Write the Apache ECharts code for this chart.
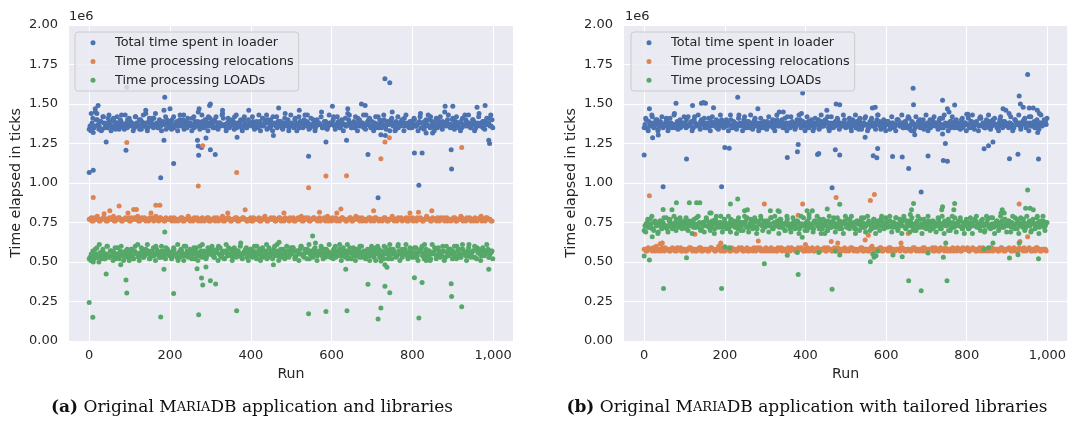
<!DOCTYPE html>
<html>
<head>
<meta charset="utf-8">
<script src="https://cdn.jsdelivr.net/npm/echarts@6/dist/echarts.min.js"></script>
<style>
  html, body { margin: 0; padding: 0; background: #fff; }
  #main { width: 1069px; height: 437px; }
</style>
</head>
<body>
<div id="main"></div>
<script>
// values in millions of ticks; each band array holds one sample every bandStep runs,
// the n-th array of a group is shifted by bandShifts[n] runs
const bandStep = 5;
const bandShifts = [0, 2, 4];
const seriesNames = ['Total time spent in loader', 'Time processing relocations', 'Time processing LOADs'];
const xTicks = [0, 200, 400, 600, 800, 1000];

// (a) original libraries
const aTotal = [
  1.34,1.44,1.32,1.47,1.40,1.36,1.33,1.42,1.37,1.35,1.39,1.36,1.41,1.34,1.38,1.36,1.43,1.35,1.37,1.40,
  1.36,1.38,1.35,1.42,1.37,1.34,1.39,1.36,1.44,1.35,1.38,1.37,1.41,1.36,1.35,1.39,1.37,1.46,1.34,1.38,
  1.37,1.40,1.35,1.38,1.36,1.43,1.37,1.34,1.39,1.36,1.38,1.41,1.35,1.37,1.45,1.36,1.39,1.35,1.38,1.42,
  1.36,1.37,1.40,1.35,1.38,1.36,1.44,1.37,1.35,1.39,1.36,1.38,1.42,1.35,1.37,1.40,1.36,1.38,1.35,1.46,
  1.37,1.39,1.35,1.38,1.43,1.36,1.37,1.40,1.34,1.38,1.36,1.42,1.37,1.35,1.39,1.37,1.36,1.44,1.38,1.35,
  1.38,1.36,1.41,1.37,1.35,1.39,1.36,1.38,1.43,1.37,1.36,1.40,1.35,1.38,1.37,1.45,1.36,1.39,1.35,1.38,
  1.37,1.42,1.36,1.38,1.35,1.40,1.37,1.36,1.44,1.38,1.35,1.39,1.37,1.41,1.36,1.38,1.35,1.43,1.37,1.36,
  1.39,1.37,1.35,1.42,1.38,1.36,1.40,1.34,1.37,1.38,1.45,1.36,1.39,1.35,1.38,1.37,1.41,1.36,1.38,1.35,
  1.37,1.40,1.36,1.38,1.44,1.35,1.39,1.37,1.36,1.42,1.38,1.35,1.40,1.37,1.36,1.39,1.45,1.38,1.36,1.37,
  1.41,1.36,1.38,1.35,1.39,1.37,1.43,1.36,1.38,1.35,1.40,1.37,1.36,1.44,1.38,1.35,1.39,1.37,1.41,1.36
];
const aTotal2 = [
  1.36,1.38,1.35,1.40,1.37,1.39,1.34,1.38,1.36,1.41,1.37,1.35,1.39,1.38,1.36,1.40,1.37,1.34,1.38,1.36,
  1.39,1.37,1.35,1.38,1.36,1.40,1.37,1.38,1.35,1.39,1.36,1.41,1.37,1.38,1.35,1.36,1.39,1.37,1.40,1.36,
  1.38,1.35,1.37,1.39,1.36,1.38,1.40,1.37,1.35,1.38,1.36,1.37,1.39,1.36,1.38,1.35,1.37,1.40,1.36,1.38,
  1.37,1.35,1.39,1.36,1.38,1.37,1.41,1.36,1.38,1.35,1.37,1.39,1.36,1.38,1.37,1.35,1.40,1.37,1.36,1.38,
  1.36,1.38,1.37,1.35,1.39,1.37,1.36,1.38,1.40,1.35,1.37,1.38,1.36,1.39,1.37,1.35,1.38,1.36,1.40,1.37,
  1.37,1.35,1.38,1.36,1.39,1.37,1.40,1.36,1.38,1.35,1.37,1.39,1.36,1.38,1.37,1.35,1.39,1.37,1.36,1.38,
  1.38,1.36,1.37,1.39,1.35,1.38,1.37,1.36,1.40,1.37,1.38,1.35,1.36,1.39,1.37,1.38,1.36,1.37,1.40,1.35,
  1.36,1.38,1.37,1.35,1.39,1.37,1.36,1.38,1.37,1.40,1.36,1.38,1.35,1.37,1.39,1.36,1.38,1.37,1.35,1.39,
  1.38,1.36,1.37,1.39,1.35,1.38,1.36,1.37,1.40,1.36,1.38,1.37,1.35,1.39,1.37,1.36,1.38,1.40,1.37,1.36,
  1.37,1.39,1.36,1.38,1.35,1.37,1.40,1.38,1.36,1.37,1.39,1.35,1.38,1.37,1.36,1.39,1.37,1.38,1.36,1.40
];
const aTotal3 = [
  1.33,1.41,1.36,1.44,1.34,1.39,1.42,1.35,1.38,1.43,1.33,1.40,1.36,1.42,1.34,1.39,1.37,1.43,1.35,1.41,
  1.38,1.33,1.42,1.36,1.40,1.34,1.43,1.37,1.33,1.41,1.39,1.35,1.44,1.36,1.40,1.33,1.38,1.42,1.35,1.39,
  1.34,1.42,1.37,1.33,1.40,1.36,1.43,1.35,1.41,1.38,1.33,1.42,1.36,1.39,1.34,1.43,1.37,1.40,1.33,1.41,
  1.39,1.35,1.42,1.34,1.38,1.43,1.36,1.33,1.41,1.37,1.40,1.34,1.43,1.36,1.39,1.33,1.42,1.35,1.40,1.37,
  1.42,1.34,1.39,1.36,1.33,1.41,1.38,1.43,1.35,1.40,1.33,1.37,1.42,1.36,1.39,1.34,1.41,1.38,1.33,1.43,
  1.36,1.40,1.33,1.42,1.37,1.35,1.43,1.39,1.34,1.41,1.36,1.33,1.40,1.38,1.42,1.35,1.39,1.34,1.43,1.37,
  1.40,1.34,1.42,1.36,1.39,1.33,1.41,1.37,1.43,1.35,1.38,1.42,1.33,1.40,1.36,1.43,1.34,1.39,1.41,1.35,
  1.33,1.42,1.37,1.40,1.35,1.43,1.36,1.39,1.33,1.41,1.38,1.34,1.42,1.36,1.40,1.33,1.43,1.37,1.39,1.35,
  1.41,1.36,1.33,1.42,1.38,1.34,1.40,1.43,1.35,1.39,1.33,1.41,1.37,1.42,1.34,1.38,1.36,1.43,1.35,1.40,
  1.34,1.42,1.38,1.33,1.41,1.36,1.39,1.43,1.35,1.40,1.33,1.37,1.42,1.36,1.39,1.34,1.41,1.38,1.43,1.35
];
const aTotalOut = [
  [0,1.067],[10,1.08],[93,1.606],[91,1.207],[187,1.542],[177,1.034],[209,1.124],[185,1.27],[42,1.26],
  [268,1.27],[270,1.234],[271,1.175],[278,1.225],[300,1.21],[312,1.18],[289,1.285],[366,1.29],
  [272,1.47],[298,1.49],[300,1.50],[22,1.49],[15,1.45],[456,1.30],[543,1.169],[586,1.26],[637,1.27],
  [690,1.18],[715,0.907],[722,1.306],[733,1.30],[805,1.19],[824,1.19],[816,0.985],[896,1.21],
  [897,1.089],[989,1.27],[991,1.25],[834,1.316],[850,1.316],[757,1.33],[732,1.66],[744,1.635],
  [469,1.475],[674,1.50],[683,1.49],[602,1.485],[881,1.486],[900,1.486],[960,1.48],[140,1.46],
  [200,1.47],[330,1.46],[520,1.46],[640,1.47],[980,1.49]
];
const aReloc = [
  0.77,0.78,0.76,0.77,0.79,0.76,0.77,0.78,0.77,0.76,0.78,0.77,0.79,0.76,0.77,0.78,0.76,0.77,0.78,0.77,
  0.76,0.78,0.77,0.77,0.79,0.76,0.78,0.77,0.76,0.77,0.78,0.77,0.76,0.79,0.77,0.78,0.77,0.76,0.78,0.77,
  0.77,0.76,0.78,0.77,0.76,0.77,0.78,0.76,0.77,0.79,0.76,0.77,0.78,0.77,0.76,0.77,0.78,0.76,0.77,0.78,
  0.76,0.77,0.78,0.77,0.76,0.77,0.79,0.76,0.77,0.78,0.76,0.77,0.77,0.78,0.76,0.77,0.78,0.77,0.76,0.77,
  0.78,0.76,0.77,0.77,0.78,0.76,0.77,0.79,0.76,0.77,0.78,0.77,0.76,0.77,0.78,0.76,0.77,0.78,0.77,0.76,
  0.77,0.78,0.76,0.77,0.77,0.79,0.76,0.78,0.77,0.76,0.77,0.78,0.77,0.76,0.78,0.77,0.77,0.76,0.79,0.77,
  0.76,0.77,0.78,0.77,0.76,0.78,0.77,0.76,0.77,0.78,0.76,0.77,0.79,0.77,0.76,0.78,0.77,0.76,0.77,0.78,
  0.77,0.76,0.78,0.77,0.77,0.76,0.78,0.77,0.76,0.77,0.79,0.76,0.77,0.78,0.77,0.76,0.77,0.78,0.76,0.77,
  0.78,0.77,0.76,0.77,0.78,0.76,0.77,0.79,0.77,0.76,0.78,0.77,0.76,0.77,0.78,0.77,0.76,0.78,0.77,0.76,
  0.77,0.78,0.76,0.77,0.79,0.76,0.77,0.78,0.77,0.76,0.77,0.78,0.76,0.77,0.79,0.77,0.76,0.78,0.77,0.76
];
const aReloc2 = [
  0.77,0.76,0.78,0.77,0.77,0.76,0.77,0.78,0.76,0.77,0.77,0.78,0.76,0.77,0.78,0.77,0.76,0.77,0.77,0.78,
  0.76,0.77,0.78,0.77,0.76,0.77,0.77,0.78,0.77,0.76,0.77,0.78,0.77,0.77,0.76,0.78,0.77,0.76,0.77,0.77,
  0.78,0.77,0.76,0.77,0.77,0.78,0.76,0.77,0.77,0.78,0.77,0.76,0.77,0.78,0.77,0.76,0.77,0.77,0.78,0.76,
  0.77,0.77,0.76,0.78,0.77,0.77,0.76,0.77,0.78,0.77,0.76,0.77,0.78,0.76,0.77,0.77,0.78,0.77,0.76,0.77,
  0.76,0.78,0.77,0.77,0.76,0.77,0.78,0.77,0.76,0.77,0.77,0.78,0.76,0.77,0.78,0.77,0.76,0.77,0.77,0.78,
  0.77,0.76,0.77,0.78,0.77,0.76,0.77,0.77,0.78,0.76,0.77,0.78,0.77,0.77,0.76,0.77,0.78,0.77,0.76,0.77,
  0.78,0.77,0.76,0.77,0.77,0.78,0.77,0.76,0.77,0.78,0.76,0.77,0.77,0.78,0.77,0.76,0.77,0.77,0.78,0.76,
  0.77,0.78,0.77,0.76,0.77,0.77,0.78,0.76,0.77,0.77,0.78,0.77,0.76,0.77,0.78,0.77,0.77,0.76,0.78,0.77,
  0.76,0.77,0.78,0.77,0.77,0.76,0.77,0.78,0.77,0.76,0.77,0.77,0.78,0.76,0.77,0.78,0.77,0.76,0.77,0.77,
  0.78,0.76,0.77,0.77,0.78,0.77,0.76,0.77,0.78,0.77,0.76,0.77,0.77,0.78,0.76,0.77,0.78,0.77,0.77,0.76
];
const aRelocOut = [
  [10,0.909],[74,0.854],[51,0.825],[110,0.833],[117,0.833],[165,0.859],[175,0.859],[96,0.81],
  [37,0.805],[343,0.81],[386,0.83],[153,0.81],[623,0.835],[704,0.825],[848,0.825],[570,0.815],
  [815,0.815],[794,0.81],[482,0.81],[613,0.81],[93,1.257],[281,1.236],[270,0.981],[365,1.067],
  [543,0.97],[586,1.044],[637,1.046],[722,1.154],[732,1.26],[743,1.287],[922,1.225]
];
const aLoads = [
  0.52,0.55,0.50,0.58,0.53,0.61,0.52,0.56,0.54,0.60,0.53,0.57,0.55,0.52,0.59,0.54,0.56,0.51,0.57,0.55,
  0.54,0.58,0.52,0.56,0.61,0.54,0.55,0.53,0.58,0.55,0.52,0.57,0.54,0.60,0.55,0.53,0.57,0.54,0.59,0.55,
  0.56,0.53,0.58,0.55,0.51,0.57,0.54,0.60,0.55,0.53,0.57,0.56,0.52,0.59,0.55,0.54,0.61,0.56,0.53,0.57,
  0.55,0.58,0.53,0.56,0.60,0.54,0.57,0.52,0.56,0.59,0.55,0.53,0.58,0.56,0.54,0.62,0.55,0.57,0.53,0.56,
  0.58,0.54,0.56,0.60,0.55,0.53,0.57,0.56,0.52,0.59,0.55,0.57,0.54,0.61,0.56,0.53,0.58,0.55,0.57,0.54,
  0.56,0.59,0.53,0.57,0.55,0.60,0.54,0.56,0.58,0.52,0.57,0.55,0.62,0.54,0.56,0.59,0.55,0.53,0.57,0.56,
  0.55,0.58,0.53,0.56,0.61,0.54,0.57,0.55,0.52,0.59,0.56,0.54,0.58,0.55,0.60,0.53,0.57,0.56,0.54,0.58,
  0.56,0.53,0.59,0.55,0.57,0.54,0.60,0.56,0.52,0.58,0.55,0.57,0.54,0.61,0.55,0.53,0.58,0.56,0.54,0.57,
  0.55,0.59,0.53,0.56,0.58,0.54,0.61,0.55,0.57,0.52,0.56,0.59,0.54,0.57,0.55,0.60,0.53,0.56,0.58,0.55,
  0.57,0.54,0.60,0.55,0.53,0.58,0.56,0.54,0.61,0.55,0.57,0.53,0.59,0.56,0.54,0.58,0.55,0.57,0.53,0.56
];
const aLoads2 = [
  0.53,0.54,0.52,0.55,0.53,0.56,0.54,0.52,0.55,0.53,0.57,0.54,0.56,0.53,0.55,0.57,0.54,0.56,0.55,0.53,
  0.56,0.54,0.57,0.55,0.53,0.56,0.58,0.54,0.55,0.57,0.53,0.56,0.55,0.58,0.54,0.56,0.53,0.57,0.55,0.56,
  0.54,0.57,0.55,0.53,0.56,0.58,0.55,0.54,0.57,0.56,0.53,0.55,0.58,0.54,0.56,0.57,0.55,0.53,0.56,0.55,
  0.57,0.54,0.56,0.58,0.55,0.53,0.56,0.57,0.54,0.55,0.58,0.56,0.54,0.57,0.55,0.53,0.56,0.58,0.55,0.54,
  0.56,0.57,0.54,0.55,0.58,0.56,0.53,0.57,0.55,0.54,0.56,0.58,0.55,0.57,0.54,0.56,0.55,0.53,0.57,0.56,
  0.55,0.57,0.54,0.56,0.58,0.55,0.53,0.56,0.57,0.55,0.54,0.58,0.56,0.55,0.57,0.54,0.56,0.58,0.55,0.53,
  0.56,0.55,0.57,0.54,0.56,0.58,0.55,0.57,0.53,0.56,0.55,0.57,0.54,0.58,0.56,0.55,0.53,0.57,0.56,0.54,
  0.57,0.55,0.56,0.58,0.54,0.56,0.55,0.57,0.53,0.56,0.58,0.55,0.54,0.57,0.56,0.55,0.58,0.54,0.56,0.57,
  0.55,0.56,0.54,0.57,0.58,0.55,0.56,0.53,0.57,0.55,0.56,0.58,0.54,0.56,0.55,0.57,0.53,0.56,0.58,0.55,
  0.56,0.54,0.57,0.55,0.58,0.56,0.54,0.57,0.55,0.56,0.53,0.58,0.56,0.55,0.57,0.54,0.56,0.58,0.55,0.57
];
const aLoads3 = [
  0.51,0.57,0.53,0.59,0.50,0.55,0.58,0.52,0.60,0.54,0.57,0.51,0.59,0.55,0.52,0.60,0.56,0.53,0.58,0.51,
  0.58,0.52,0.60,0.55,0.51,0.59,0.53,0.57,0.61,0.52,0.56,0.59,0.51,0.57,0.53,0.60,0.55,0.52,0.58,0.54,
  0.52,0.59,0.55,0.61,0.53,0.57,0.51,0.60,0.54,0.58,0.52,0.59,0.56,0.51,0.60,0.53,0.57,0.52,0.59,0.55,
  0.60,0.53,0.57,0.51,0.59,0.55,0.52,0.61,0.54,0.58,0.51,0.59,0.53,0.57,0.60,0.52,0.56,0.59,0.51,0.58,
  0.53,0.60,0.52,0.57,0.51,0.59,0.55,0.61,0.53,0.57,0.52,0.60,0.54,0.51,0.58,0.56,0.52,0.60,0.53,0.59,
  0.59,0.52,0.57,0.51,0.60,0.54,0.58,0.52,0.61,0.55,0.53,0.59,0.51,0.57,0.60,0.52,0.58,0.54,0.61,0.53,
  0.52,0.60,0.55,0.58,0.51,0.59,0.53,0.61,0.56,0.52,0.59,0.51,0.57,0.53,0.60,0.55,0.52,0.58,0.51,0.60,
  0.58,0.51,0.60,0.53,0.57,0.52,0.59,0.55,0.61,0.52,0.57,0.53,0.60,0.51,0.58,0.55,0.61,0.52,0.59,0.53,
  0.53,0.59,0.51,0.57,0.60,0.52,0.58,0.54,0.51,0.61,0.55,0.52,0.59,0.53,0.57,0.51,0.60,0.54,0.58,0.52,
  0.60,0.52,0.58,0.53,0.61,0.55,0.51,0.59,0.53,0.57,0.60,0.52,0.58,0.51,0.59,0.55,0.61,0.53,0.57,0.52
];
const aLoadsOut = [
  [0,0.243],[9,0.15],[42,0.424],[78,0.483],[91,0.386],[93,0.304],[177,0.152],[185,0.454],[187,0.69],
  [209,0.30],[267,0.458],[278,0.399],[281,0.354],[289,0.468],[300,0.382],[313,0.361],[271,0.166],
  [365,0.192],[456,0.483],[543,0.173],[586,0.187],[635,0.454],[638,0.192],[690,0.359],[715,0.139],
  [722,0.209],[722,0.506],[732,0.483],[737,0.466],[732,0.346],[744,0.306],[805,0.40],[824,0.37],
  [816,0.146],[896,0.363],[897,0.282],[922,0.217],[989,0.454],[834,0.51],[553,0.665],[470,0.625]
];

// (b) tailored libraries
const bTotal = [
  1.35,1.40,1.33,1.37,1.42,1.36,1.38,1.34,1.39,1.37,1.36,1.41,1.35,1.38,1.37,1.44,1.36,1.39,1.35,1.38,
  1.37,1.40,1.36,1.38,1.35,1.42,1.37,1.36,1.39,1.38,1.35,1.37,1.41,1.36,1.38,1.37,1.35,1.39,1.36,1.38,
  1.38,1.36,1.37,1.40,1.35,1.38,1.37,1.43,1.36,1.38,1.35,1.39,1.37,1.36,1.38,1.41,1.37,1.35,1.38,1.36,
  1.37,1.39,1.36,1.38,1.35,1.37,1.40,1.36,1.38,1.37,1.35,1.42,1.37,1.36,1.38,1.35,1.39,1.37,1.44,1.36,
  1.38,1.35,1.37,1.40,1.36,1.38,1.37,1.35,1.39,1.36,1.38,1.42,1.37,1.35,1.38,1.36,1.40,1.37,1.36,1.38,
  1.35,1.37,1.39,1.36,1.38,1.35,1.37,1.41,1.36,1.38,1.37,1.35,1.39,1.36,1.38,1.37,1.43,1.36,1.38,1.35,
  1.37,1.39,1.36,1.38,1.35,1.37,1.40,1.36,1.38,1.37,1.35,1.42,1.36,1.38,1.37,1.36,1.39,1.35,1.38,1.37,
  1.36,1.38,1.35,1.40,1.37,1.36,1.38,1.35,1.41,1.37,1.36,1.38,1.35,1.37,1.39,1.36,1.38,1.37,1.35,1.38,
  1.37,1.36,1.39,1.35,1.38,1.37,1.36,1.41,1.38,1.35,1.37,1.36,1.38,1.40,1.37,1.35,1.38,1.36,1.39,1.37,
  1.36,1.38,1.37,1.35,1.40,1.37,1.38,1.36,1.39,1.37,1.38,1.42,1.36,1.38,1.37,1.39,1.36,1.38,1.37,1.39
];
const bTotal2 = [
  1.37,1.35,1.39,1.36,1.38,1.37,1.40,1.36,1.38,1.35,1.37,1.39,1.36,1.38,1.37,1.35,1.39,1.37,1.36,1.38,
  1.38,1.36,1.37,1.39,1.35,1.38,1.37,1.36,1.40,1.37,1.38,1.35,1.36,1.39,1.37,1.38,1.36,1.37,1.40,1.35,
  1.36,1.38,1.37,1.35,1.39,1.37,1.36,1.38,1.37,1.40,1.36,1.38,1.35,1.37,1.39,1.36,1.38,1.37,1.35,1.39,
  1.38,1.36,1.37,1.39,1.35,1.38,1.36,1.37,1.40,1.36,1.38,1.37,1.35,1.39,1.37,1.36,1.38,1.40,1.37,1.36,
  1.37,1.39,1.36,1.38,1.35,1.37,1.40,1.38,1.36,1.37,1.39,1.35,1.38,1.37,1.36,1.39,1.37,1.38,1.36,1.40,
  1.36,1.38,1.35,1.40,1.37,1.39,1.34,1.38,1.36,1.41,1.37,1.35,1.39,1.38,1.36,1.40,1.37,1.34,1.38,1.36,
  1.39,1.37,1.35,1.38,1.36,1.40,1.37,1.38,1.35,1.39,1.36,1.41,1.37,1.38,1.35,1.36,1.39,1.37,1.40,1.36,
  1.38,1.35,1.37,1.39,1.36,1.38,1.40,1.37,1.35,1.38,1.36,1.37,1.39,1.36,1.38,1.35,1.37,1.40,1.36,1.38,
  1.37,1.35,1.39,1.36,1.38,1.37,1.41,1.36,1.38,1.35,1.37,1.39,1.36,1.38,1.37,1.35,1.40,1.37,1.36,1.38,
  1.36,1.38,1.37,1.35,1.39,1.37,1.36,1.38,1.40,1.35,1.37,1.38,1.36,1.39,1.37,1.35,1.38,1.36,1.40,1.37
];
const bTotal3 = [
  1.41,1.34,1.38,1.43,1.35,1.40,1.33,1.37,1.42,1.36,1.39,1.33,1.41,1.35,1.43,1.37,1.34,1.40,1.36,1.42,
  1.35,1.42,1.37,1.33,1.40,1.36,1.43,1.34,1.39,1.41,1.35,1.38,1.33,1.42,1.36,1.40,1.34,1.43,1.37,1.39,
  1.40,1.33,1.43,1.36,1.38,1.34,1.41,1.37,1.33,1.42,1.35,1.39,1.43,1.34,1.40,1.36,1.33,1.41,1.38,1.35,
  1.34,1.42,1.36,1.40,1.33,1.43,1.37,1.39,1.35,1.41,1.33,1.38,1.42,1.36,1.34,1.40,1.43,1.35,1.39,1.33,
  1.42,1.35,1.39,1.33,1.41,1.37,1.34,1.43,1.36,1.40,1.38,1.33,1.42,1.35,1.39,1.41,1.34,1.37,1.43,1.36,
  1.36,1.41,1.33,1.39,1.43,1.35,1.40,1.34,1.38,1.42,1.33,1.37,1.41,1.36,1.34,1.43,1.39,1.35,1.40,1.33,
  1.39,1.34,1.42,1.37,1.33,1.40,1.36,1.43,1.35,1.38,1.41,1.34,1.39,1.33,1.42,1.36,1.40,1.37,1.34,1.43,
  1.33,1.40,1.36,1.42,1.38,1.34,1.41,1.35,1.43,1.37,1.33,1.39,1.42,1.35,1.40,1.36,1.34,1.41,1.38,1.33,
  1.41,1.36,1.43,1.34,1.39,1.33,1.42,1.37,1.35,1.40,1.43,1.34,1.38,1.41,1.36,1.33,1.42,1.35,1.39,1.37,
  1.35,1.42,1.33,1.40,1.37,1.43,1.34,1.39,1.41,1.36,1.33,1.42,1.38,1.35,1.40,1.34,1.43,1.37,1.39,1.41
];
const bTotalOut = [
  [0,1.177],[21,1.287],[35,1.304],[13,1.47],[47,0.977],[79,1.504],[105,1.152],[142,1.505],[152,1.505],
  [147,1.51],[120,1.49],[172,1.477],[192,0.977],[200,1.224],[211,1.22],[232,1.542],[282,1.47],
  [355,1.162],[380,1.198],[382,1.244],[393,1.57],[430,1.18],[345,1.45],[335,1.45],[433,1.186],
  [474,1.211],[485,1.177],[466,0.97],[568,1.173],[577,1.16],[579,1.218],[616,1.167],[640,1.165],
  [656,1.091],[667,1.60],[668,1.496],[687,0.943],[671,1.306],[663,1.33],[704,1.171],[740,1.523],
  [747,1.25],[742,1.143],[752,1.137],[770,1.494],[752,1.47],[756,1.45],[740,1.31],[843,1.217],
  [854,1.236],[865,1.26],[803,1.435],[800,1.435],[906,1.154],[927,1.182],[951,1.686],[930,1.55],
  [933,1.50],[940,1.48],[955,1.475],[965,1.475],[975,1.46],[980,1.44],[978,1.152],[976,1.32],
  [890,1.47],[897,1.46],[905,1.44],[476,1.50],[485,1.495],[566,1.475],[573,1.48],[548,1.29],[453,1.46]
];
const bReloc = [
  0.58,0.57,0.59,0.58,0.57,0.58,0.60,0.57,0.58,0.59,0.57,0.58,0.58,0.57,0.59,0.58,0.57,0.58,0.59,0.57,
  0.58,0.57,0.58,0.59,0.57,0.58,0.57,0.58,0.59,0.57,0.58,0.58,0.57,0.59,0.58,0.57,0.58,0.60,0.57,0.58,
  0.57,0.58,0.59,0.57,0.58,0.58,0.57,0.59,0.58,0.57,0.58,0.59,0.57,0.58,0.57,0.58,0.59,0.58,0.57,0.58,
  0.58,0.57,0.58,0.59,0.57,0.58,0.57,0.58,0.59,0.58,0.57,0.58,0.57,0.59,0.58,0.57,0.58,0.58,0.59,0.57,
  0.58,0.59,0.57,0.58,0.57,0.58,0.59,0.57,0.58,0.58,0.57,0.59,0.58,0.57,0.58,0.57,0.59,0.58,0.57,0.58,
  0.57,0.58,0.58,0.59,0.57,0.58,0.57,0.58,0.59,0.57,0.58,0.57,0.58,0.60,0.58,0.57,0.58,0.59,0.57,0.58,
  0.58,0.57,0.59,0.58,0.57,0.58,0.58,0.57,0.59,0.58,0.57,0.58,0.57,0.58,0.59,0.57,0.58,0.58,0.57,0.59,
  0.57,0.58,0.58,0.59,0.57,0.58,0.57,0.59,0.58,0.57,0.58,0.58,0.57,0.59,0.58,0.57,0.58,0.57,0.59,0.58,
  0.58,0.57,0.58,0.59,0.58,0.57,0.58,0.57,0.59,0.58,0.57,0.58,0.59,0.57,0.58,0.58,0.57,0.59,0.58,0.57,
  0.58,0.59,0.57,0.58,0.57,0.58,0.59,0.58,0.57,0.58,0.58,0.59,0.57,0.58,0.57,0.59,0.58,0.57,0.58,0.58
];
const bReloc2 = [
  0.58,0.57,0.58,0.58,0.59,0.57,0.58,0.58,0.57,0.58,0.59,0.58,0.57,0.58,0.58,0.57,0.59,0.58,0.57,0.58,
  0.57,0.58,0.59,0.58,0.58,0.57,0.58,0.59,0.57,0.58,0.58,0.57,0.58,0.59,0.58,0.57,0.58,0.58,0.59,0.57,
  0.58,0.58,0.57,0.59,0.58,0.57,0.58,0.58,0.59,0.57,0.58,0.57,0.58,0.58,0.59,0.57,0.58,0.59,0.58,0.57,
  0.59,0.58,0.57,0.58,0.58,0.57,0.59,0.58,0.57,0.58,0.58,0.59,0.57,0.58,0.58,0.57,0.59,0.58,0.58,0.57,
  0.57,0.58,0.58,0.59,0.57,0.58,0.58,0.57,0.58,0.59,0.57,0.58,0.58,0.57,0.59,0.58,0.57,0.58,0.58,0.59,
  0.58,0.57,0.59,0.58,0.58,0.57,0.58,0.59,0.57,0.58,0.58,0.57,0.59,0.58,0.57,0.58,0.58,0.59,0.57,0.58,
  0.58,0.59,0.57,0.58,0.57,0.58,0.58,0.59,0.58,0.57,0.58,0.58,0.57,0.59,0.58,0.58,0.57,0.58,0.59,0.57,
  0.57,0.58,0.58,0.57,0.59,0.58,0.57,0.58,0.58,0.59,0.57,0.58,0.58,0.57,0.58,0.59,0.58,0.57,0.58,0.58,
  0.59,0.57,0.58,0.58,0.57,0.58,0.59,0.58,0.57,0.58,0.58,0.57,0.59,0.58,0.58,0.57,0.58,0.59,0.57,0.58,
  0.58,0.58,0.57,0.59,0.58,0.57,0.58,0.58,0.59,0.57,0.58,0.58,0.57,0.58,0.59,0.58,0.57,0.58,0.58,0.57
];
const bRelocOut = [
  [13,0.92],[126,0.675],[298,0.867],[283,0.633],[393,0.867],[382,0.796],[400,0.61],[45,0.62],
  [40,0.615],[190,0.62],[476,0.909],[571,0.928],[561,0.89],[556,0.669],[548,0.64],[464,0.63],
  [480,0.62],[930,0.867],[951,0.66],[655,0.68],[637,0.62],[932,0.63]
];
const bLoads = [
  0.70,0.74,0.72,0.77,0.71,0.75,0.73,0.69,0.76,0.74,0.72,0.78,0.73,0.75,0.71,0.74,0.77,0.72,0.75,0.73,
  0.74,0.71,0.76,0.73,0.75,0.72,0.78,0.74,0.70,0.75,0.73,0.77,0.72,0.74,0.76,0.71,0.75,0.73,0.79,0.72,
  0.75,0.73,0.71,0.77,0.74,0.72,0.76,0.73,0.75,0.70,0.74,0.78,0.72,0.75,0.73,0.76,0.71,0.74,0.77,0.73,
  0.72,0.75,0.73,0.78,0.71,0.74,0.76,0.72,0.75,0.73,0.70,0.77,0.74,0.72,0.75,0.73,0.76,0.71,0.74,0.78,
  0.73,0.76,0.72,0.74,0.71,0.75,0.73,0.77,0.72,0.74,0.76,0.70,0.75,0.73,0.78,0.72,0.74,0.76,0.71,0.75,
  0.74,0.72,0.77,0.73,0.75,0.71,0.74,0.76,0.72,0.78,0.73,0.75,0.70,0.74,0.77,0.72,0.75,0.73,0.76,0.71,
  0.75,0.73,0.76,0.72,0.74,0.78,0.71,0.75,0.73,0.77,0.72,0.74,0.76,0.73,0.70,0.75,0.72,0.77,0.74,0.73,
  0.72,0.76,0.74,0.71,0.75,0.73,0.77,0.72,0.74,0.76,0.73,0.70,0.75,0.72,0.78,0.74,0.73,0.76,0.71,0.75,
  0.74,0.71,0.75,0.73,0.77,0.72,0.74,0.76,0.73,0.70,0.75,0.72,0.78,0.74,0.73,0.76,0.71,0.75,0.73,0.77,
  0.73,0.76,0.72,0.74,0.78,0.71,0.75,0.73,0.77,0.72,0.74,0.76,0.70,0.75,0.73,0.79,0.72,0.74,0.76,0.73
];
const bLoads2 = [
  0.73,0.75,0.72,0.74,0.71,0.76,0.73,0.74,0.72,0.75,0.73,0.71,0.76,0.74,0.72,0.75,0.73,0.77,0.74,0.72,
  0.75,0.73,0.74,0.76,0.72,0.74,0.73,0.75,0.71,0.74,0.76,0.73,0.75,0.72,0.74,0.77,0.73,0.75,0.72,0.74,
  0.74,0.72,0.75,0.73,0.76,0.74,0.71,0.75,0.73,0.74,0.76,0.72,0.74,0.73,0.75,0.72,0.76,0.74,0.73,0.75,
  0.73,0.76,0.74,0.72,0.75,0.73,0.74,0.77,0.72,0.74,0.75,0.73,0.71,0.74,0.76,0.73,0.75,0.72,0.74,0.73,
  0.75,0.73,0.74,0.72,0.76,0.74,0.73,0.75,0.71,0.74,0.73,0.76,0.72,0.75,0.74,0.73,0.75,0.72,0.74,0.76,
  0.72,0.74,0.75,0.73,0.71,0.76,0.74,0.73,0.75,0.72,0.74,0.76,0.73,0.75,0.72,0.74,0.73,0.77,0.74,0.72,
  0.74,0.76,0.73,0.75,0.72,0.74,0.73,0.75,0.76,0.72,0.74,0.73,0.75,0.71,0.74,0.76,0.73,0.74,0.72,0.75,
  0.73,0.74,0.72,0.76,0.74,0.73,0.75,0.71,0.74,0.73,0.76,0.74,0.72,0.75,0.73,0.74,0.76,0.72,0.74,0.73,
  0.75,0.72,0.74,0.73,0.76,0.74,0.72,0.75,0.73,0.74,0.77,0.73,0.74,0.72,0.75,0.73,0.74,0.76,0.72,0.74,
  0.74,0.73,0.75,0.72,0.74,0.76,0.73,0.74,0.75,0.72,0.74,0.73,0.76,0.74,0.72,0.75,0.73,0.74,0.72,0.75
];
const bLoads3 = [
  0.69,0.77,0.72,0.79,0.70,0.75,0.68,0.76,0.71,0.78,0.73,0.69,0.77,0.72,0.79,0.70,0.74,0.78,0.71,0.76,
  0.78,0.70,0.75,0.68,0.77,0.72,0.79,0.71,0.74,0.69,0.78,0.73,0.70,0.76,0.68,0.79,0.72,0.75,0.69,0.77,
  0.71,0.79,0.69,0.76,0.73,0.68,0.78,0.70,0.75,0.79,0.72,0.69,0.77,0.71,0.78,0.68,0.74,0.79,0.70,0.76,
  0.76,0.69,0.78,0.71,0.79,0.73,0.68,0.77,0.72,0.70,0.79,0.74,0.69,0.78,0.71,0.76,0.68,0.79,0.73,0.70,
  0.70,0.78,0.72,0.69,0.76,0.79,0.71,0.68,0.77,0.73,0.70,0.79,0.72,0.76,0.69,0.78,0.71,0.74,0.68,0.79,
  0.77,0.71,0.79,0.73,0.68,0.76,0.70,0.78,0.72,0.69,0.79,0.74,0.71,0.77,0.68,0.76,0.70,0.79,0.72,0.78,
  0.72,0.79,0.69,0.75,0.78,0.70,0.77,0.68,0.79,0.71,0.76,0.69,0.78,0.73,0.70,0.79,0.72,0.68,0.77,0.71,
  0.79,0.70,0.76,0.72,0.69,0.78,0.71,0.79,0.68,0.75,0.77,0.70,0.79,0.72,0.69,0.76,0.78,0.71,0.68,0.77,
  0.71,0.78,0.68,0.76,0.79,0.72,0.70,0.77,0.69,0.79,0.73,0.71,0.78,0.68,0.76,0.70,0.79,0.72,0.77,0.69,
  0.76,0.69,0.79,0.71,0.77,0.68,0.78,0.72,0.70,0.79,0.74,0.69,0.77,0.71,0.78,0.68,0.76,0.79,0.70,0.75
];
const bLoadsOut = [
  [0,0.538],[13,0.513],[48,0.333],[105,0.527],[192,0.333],[200,0.597],[212,0.587],[298,0.489],
  [355,0.542],[382,0.421],[380,0.56],[392,0.656],[20,0.66],[232,0.899],[214,0.867],[80,0.875],
  [112,0.875],[130,0.875],[138,0.875],[47,0.833],[69,0.83],[163,0.81],[166,0.81],[249,0.825],
  [256,0.83],[313,0.825],[332,0.825],[335,0.82],[404,0.825],[409,0.80],[417,0.825],[466,0.327],
  [561,0.502],[570,0.53],[575,0.54],[567,0.55],[580,0.57],[485,0.865],[454,0.835],[448,0.68],
  [433,0.56],[474,0.57],[485,0.545],[617,0.544],[640,0.533],[656,0.382],[687,0.318],[704,0.557],
  [742,0.53],[751,0.382],[748,0.62],[668,0.87],[663,0.83],[660,0.80],[770,0.87],[768,0.83],
  [740,0.85],[738,0.83],[843,0.58],[854,0.59],[865,0.62],[906,0.525],[927,0.546],[930,0.62],
  [978,0.521],[951,0.955],[946,0.84],[957,0.84],[965,0.83],[888,0.83],[893,0.81],[885,0.81]
];

const colors = ['#4C72B0', '#DD8452', '#55A868'];
const textColor = '#262626';
const sans = 'DejaVu Sans';

function points(bands, extra) {
  let out = [];
  bands.forEach((band, n) => {
    band.forEach((v, i) => out.push([i * bandStep + bandShifts[n], v]));
  });
  return out.concat(extra);
}

function scatter(k, data, idx) {
  return {
    name: seriesNames[k],
    type: 'scatter',
    xAxisIndex: idx,
    yAxisIndex: idx,
    data: data,
    symbolSize: 5,
    itemStyle: { color: colors[k], opacity: 1 },
    silent: true
  };
}

function xAxisFor(idx) {
  return {
    type: 'value',
    gridIndex: idx,
    min: -50,
    max: 1049,
    name: 'Run',
    nameLocation: 'middle',
    nameGap: 25,
    nameTextStyle: { fontFamily: sans, fontSize: 14.2, color: textColor },
    axisLine: { show: false },
    axisTick: { show: false, customValues: xTicks },
    axisLabel: { customValues: xTicks, margin: 8, fontFamily: sans, fontSize: 13, color: textColor },
    splitLine: { show: false }
  };
}

function yAxisFor(idx) {
  return {
    type: 'value',
    gridIndex: idx,
    min: 0,
    max: 2,
    interval: 0.25,
    name: 'Time elapsed in ticks',
    nameLocation: 'middle',
    nameGap: 46,
    nameTextStyle: { fontFamily: sans, fontSize: 14.2, color: textColor },
    axisLine: { show: false },
    axisTick: { show: false },
    axisLabel: { margin: 11, fontFamily: sans, fontSize: 13, color: textColor,
      formatter: v => v.toFixed(2) },
    splitLine: { lineStyle: { color: '#ffffff', width: 1 } }
  };
}

function legendFor(left) {
  return {
    orient: 'vertical',
    left: left,
    top: 32,
    icon: 'circle',
    itemWidth: 5,
    itemHeight: 5,
    itemGap: 4.8,
    padding: [3.7, 5, 3.7, 15.5],
    backgroundColor: 'rgba(234,234,242,0.8)',
    borderColor: '#cccccc',
    borderWidth: 1,
    borderRadius: 3,
    textStyle: { fontFamily: sans, fontSize: 12.8, color: textColor, lineHeight: 14,
      padding: [0, 0, 0, 14.5] },
    data: seriesNames
  };
}

function caption(x, tag, rest) {
  return {
    type: 'text',
    x: x,
    y: 408,
    style: {
      text: '{b|' + tag + '} Original M{s|ARIA}DB ' + rest,
      align: 'center',
      verticalAlign: 'middle',
      fontFamily: 'DejaVu Serif',
      fontSize: 17,
      fill: '#111111',
      rich: {
        b: { fontFamily: 'DejaVu Serif', fontSize: 17, fontWeight: 'bold', fill: '#111111' },
        s: { fontFamily: 'DejaVu Serif', fontSize: 13, fill: '#111111' }
      }
    }
  };
}

const chart = echarts.init(document.getElementById('main'), null, { renderer: 'canvas' });

// white vertical grid lines at the run ticks
const vLines = xTicks.map(v => [{ xAxis: v, yAxis: 0 }, { xAxis: v, yAxis: 2 }]);
function gridLines(idx) {
  return {
    type: 'line', xAxisIndex: idx, yAxisIndex: idx, data: [], z: 0, silent: true,
    markLine: { silent: true, symbol: 'none', label: { show: false }, z: 0,
      lineStyle: { color: '#ffffff', width: 1, type: 'solid' }, data: vLines }
  };
}

chart.setOption({
  animation: false,
  backgroundColor: '#ffffff',
  grid: [
    { left: 69, top: 25, width: 444, height: 316, show: true, backgroundColor: '#EAEAF2', borderWidth: 0 },
    { left: 624, top: 25, width: 446, height: 316, show: true, backgroundColor: '#EAEAF2', borderWidth: 0 }
  ],
  xAxis: [xAxisFor(0), xAxisFor(1)],
  yAxis: [yAxisFor(0), yAxisFor(1)],
  legend: [legendFor(75), legendFor(631)],
  series: [
    scatter(0, points([aTotal, aTotal2, aTotal3], aTotalOut), 0),
    scatter(1, points([aReloc, aReloc2], aRelocOut), 0),
    scatter(2, points([aLoads, aLoads2, aLoads3], aLoadsOut), 0),
    scatter(0, points([bTotal, bTotal2, bTotal3], bTotalOut), 1),
    scatter(1, points([bReloc, bReloc2], bRelocOut), 1),
    scatter(2, points([bLoads, bLoads2, bLoads3], bLoadsOut), 1),
    gridLines(0),
    gridLines(1)
  ],
  graphic: [
    { type: 'text', x: 69, y: 17, style: { text: '1e6', fontFamily: sans, fontSize: 13, fill: textColor, verticalAlign: 'middle' } },
    { type: 'text', x: 625, y: 17, style: { text: '1e6', fontFamily: sans, fontSize: 13, fill: textColor, verticalAlign: 'middle' } },
    caption(252, '(a)', 'application and libraries'),
    caption(807, '(b)', 'application with tailored libraries')
  ]
});
</script>
</body>
</html>
